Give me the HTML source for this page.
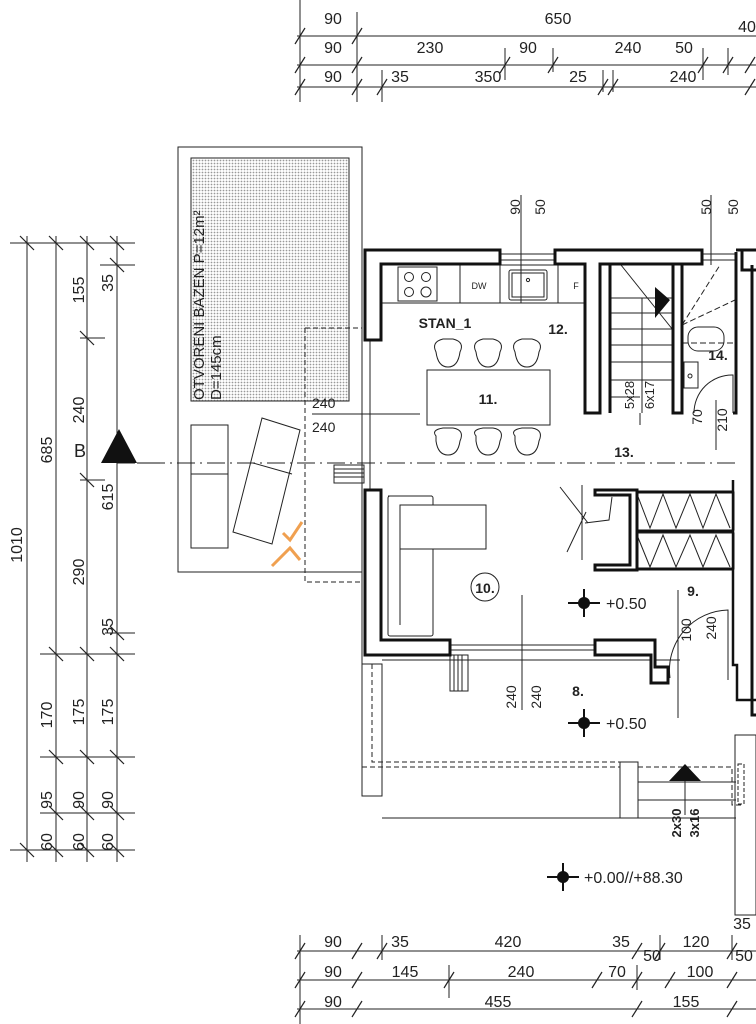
<!DOCTYPE html>
<html><head><meta charset="utf-8"><style>
html,body{margin:0;padding:0;background:#fff;}
svg{display:block;}
text{font-family:"Liberation Sans",sans-serif;fill:#222;}
</style></head><body>
<svg width="756" height="1024" viewBox="0 0 756 1024" xmlns="http://www.w3.org/2000/svg">
<defs>
<pattern id="dots" width="3" height="3" patternUnits="userSpaceOnUse"><rect width="3" height="3" fill="#fff"/><circle cx="1.5" cy="1.5" r="0.9" fill="#999"/></pattern>
</defs>
<g stroke="#222" stroke-width="1" fill="none">
<!-- TOP DIMENSIONS -->
<line x1="297" y1="36" x2="756" y2="36"/>
<line x1="297" y1="65" x2="756" y2="65"/>
<line x1="297" y1="87" x2="756" y2="87"/>
<line x1="300" y1="0" x2="300" y2="102"/>
<line x1="357" y1="12" x2="357" y2="102"/>
<line x1="382" y1="70" x2="382" y2="102"/>
<line x1="505" y1="48" x2="505" y2="80"/>
<line x1="553" y1="48" x2="553" y2="72"/>
<line x1="603" y1="70" x2="603" y2="92"/>
<line x1="613" y1="70" x2="613" y2="92"/>
<line x1="703" y1="48" x2="703" y2="80"/>
<line x1="728" y1="48" x2="728" y2="75"/>
<g stroke-width="1.2">
<line x1="295" y1="44" x2="305" y2="28"/><line x1="352" y1="44" x2="362" y2="28"/>
<line x1="295" y1="73" x2="305" y2="57"/><line x1="352" y1="73" x2="362" y2="57"/>
<line x1="500" y1="73" x2="510" y2="57"/><line x1="548" y1="73" x2="558" y2="57"/>
<line x1="698" y1="73" x2="708" y2="57"/><line x1="723" y1="73" x2="733" y2="57"/>
<line x1="295" y1="95" x2="305" y2="79"/><line x1="352" y1="95" x2="362" y2="79"/>
<line x1="377" y1="95" x2="387" y2="79"/><line x1="598" y1="95" x2="608" y2="79"/>
<line x1="608" y1="95" x2="618" y2="79"/><line x1="745" y1="95" x2="755" y2="79"/>
<line x1="745" y1="73" x2="755" y2="57"/>
</g>
<!-- LEFT DIMENSIONS -->
<line x1="27" y1="236" x2="27" y2="862"/>
<line x1="56" y1="236" x2="56" y2="862"/>
<line x1="87" y1="236" x2="87" y2="862"/>
<line x1="117" y1="236" x2="117" y2="862"/>
<line x1="10" y1="243" x2="135" y2="243"/>
<line x1="10" y1="850" x2="135" y2="850"/>
<line x1="100" y1="265" x2="135" y2="265"/>
<line x1="80" y1="338" x2="105" y2="338"/>
<line x1="80" y1="480" x2="105" y2="480"/>
<line x1="105" y1="633" x2="135" y2="633"/>
<line x1="40" y1="654" x2="135" y2="654"/>
<line x1="40" y1="757" x2="135" y2="757"/>
<line x1="40" y1="813" x2="135" y2="813"/>
<g stroke-width="1.2">
<line x1="20" y1="236" x2="34" y2="250"/><line x1="49" y1="236" x2="63" y2="250"/><line x1="80" y1="236" x2="94" y2="250"/><line x1="110" y1="236" x2="124" y2="250"/>
<line x1="110" y1="258" x2="124" y2="272"/><line x1="80" y1="331" x2="94" y2="345"/><line x1="80" y1="473" x2="94" y2="487"/>
<line x1="110" y1="626" x2="124" y2="640"/>
<line x1="49" y1="647" x2="63" y2="661"/><line x1="80" y1="647" x2="94" y2="661"/><line x1="110" y1="647" x2="124" y2="661"/>
<line x1="49" y1="750" x2="63" y2="764"/><line x1="80" y1="750" x2="94" y2="764"/><line x1="110" y1="750" x2="124" y2="764"/>
<line x1="49" y1="806" x2="63" y2="820"/><line x1="80" y1="806" x2="94" y2="820"/><line x1="110" y1="806" x2="124" y2="820"/>
<line x1="20" y1="843" x2="34" y2="857"/><line x1="49" y1="843" x2="63" y2="857"/><line x1="80" y1="843" x2="94" y2="857"/><line x1="110" y1="843" x2="124" y2="857"/>
</g>
<!-- Section B line -->
<line x1="117" y1="463" x2="740" y2="463" stroke-dasharray="18,5,2,5" stroke-width="0.9"/>
<!-- BOTTOM DIMENSIONS -->
<line x1="297" y1="951" x2="756" y2="951"/>
<line x1="297" y1="980" x2="756" y2="980"/>
<line x1="297" y1="1009" x2="756" y2="1009"/>
<line x1="300" y1="935" x2="300" y2="1024"/>
<line x1="382" y1="935" x2="382" y2="960"/>
<line x1="449" y1="965" x2="449" y2="998"/>
<line x1="637" y1="965" x2="637" y2="990"/>
<line x1="660" y1="935" x2="660" y2="960"/>
<line x1="732" y1="935" x2="732" y2="960"/>
<g stroke-width="1.2">
<line x1="295" y1="959" x2="305" y2="943"/><line x1="352" y1="959" x2="362" y2="943"/><line x1="377" y1="959" x2="387" y2="943"/>
<line x1="632" y1="959" x2="642" y2="943"/><line x1="655" y1="959" x2="665" y2="943"/><line x1="727" y1="959" x2="737" y2="943"/>
<line x1="295" y1="988" x2="305" y2="972"/><line x1="352" y1="988" x2="362" y2="972"/><line x1="444" y1="988" x2="454" y2="972"/>
<line x1="592" y1="988" x2="602" y2="972"/><line x1="632" y1="988" x2="642" y2="972"/><line x1="665" y1="988" x2="675" y2="972"/><line x1="727" y1="988" x2="737" y2="972"/>
<line x1="295" y1="1017" x2="305" y2="1001"/><line x1="352" y1="1017" x2="362" y2="1001"/><line x1="632" y1="1017" x2="642" y2="1001"/><line x1="727" y1="1017" x2="737" y2="1001"/>
</g>
<!-- POOL AREA -->
<rect x="178" y="147" width="184" height="425"/>
<rect x="191" y="158" width="158" height="243" fill="url(#dots)"/>
<rect x="191" y="425" width="37" height="123"/>
<line x1="191" y1="474" x2="228" y2="474"/>
<polygon points="262,418 300,430 272,544 233,532"/>
<line x1="253" y1="463" x2="292" y2="474"/>
<polyline points="305,328 362,328" stroke-dasharray="5,3"/>
<polyline points="305,328 305,582 362,582" stroke-dasharray="5,3"/>
<line x1="312" y1="414" x2="420" y2="414"/>
<line x1="362" y1="272" x2="362" y2="795"/>
<line x1="370" y1="340" x2="370" y2="490"/>
<!-- steps at left door -->
<rect x="334" y="465" width="30" height="18"/>
<line x1="334" y1="469" x2="364" y2="469"/><line x1="334" y1="473" x2="364" y2="473"/><line x1="334" y1="477" x2="364" y2="477"/>
<!-- TERRACE -->
<line x1="362" y1="660" x2="362" y2="795"/>
<rect x="362" y="664" width="20" height="132"/>
<polyline points="372,664 372,762 620,762" stroke-dasharray="5,3"/>
<polyline points="362,767 620,767" stroke-dasharray="5,3"/>
<line x1="382" y1="818" x2="736" y2="818"/>
<rect x="620" y="762" width="18" height="56"/>
<line x1="638" y1="782" x2="736" y2="782"/>
<line x1="638" y1="800" x2="736" y2="800"/>
<polyline points="638,767 732,767 732,805 742,805" stroke-dasharray="5,3"/>
<rect x="735" y="735" width="21" height="180"/>
<rect x="738" y="764" width="6" height="40" stroke-dasharray="4,2"/>
<line x1="685" y1="770" x2="685" y2="815"/>
<!-- step stairs at bottom door -->
<rect x="450" y="655" width="18" height="36"/>
<line x1="454" y1="655" x2="454" y2="691"/><line x1="458" y1="655" x2="458" y2="691"/><line x1="462" y1="655" x2="462" y2="691"/>
<!-- window openings thin lines -->
<line x1="450" y1="645" x2="595" y2="645"/><line x1="450" y1="650" x2="595" y2="650"/>
<line x1="500" y1="254" x2="555" y2="254"/><line x1="500" y1="260" x2="555" y2="260"/>
<line x1="702" y1="254" x2="736" y2="254"/><line x1="702" y1="260" x2="736" y2="260"/>
<line x1="521" y1="195" x2="521" y2="303"/>
<line x1="711" y1="195" x2="711" y2="265"/>
<line x1="522" y1="595" x2="522" y2="710"/>
<line x1="678" y1="590" x2="678" y2="718"/>
<line x1="382" y1="660" x2="680" y2="660"/>
<!-- KITCHEN -->
<rect x="381" y="265" width="219" height="38"/>
<rect x="398" y="267" width="39" height="34"/>
<circle cx="409" cy="277" r="4.5"/><circle cx="426" cy="277" r="4.5"/><circle cx="409" cy="292" r="4.5"/><circle cx="426" cy="292" r="5"/>
<line x1="460" y1="265" x2="460" y2="303"/>
<line x1="500" y1="265" x2="500" y2="303"/>
<rect x="509" y="270" width="38" height="30" rx="2"/>
<rect x="512" y="273" width="32" height="24"/>
<circle cx="528" cy="280" r="1.6"/>
<line x1="558" y1="265" x2="558" y2="303"/>
<!-- TABLE & CHAIRS -->
<rect x="427" y="370" width="123" height="55"/>
<path d="M436,352 Q431,342 443,339 L453,339 Q465,342 460,352 Q458,367 448,367 Q438,367 436,352Z"/>
<path d="M476,352 Q471,342 483,339 L493,339 Q505,342 500,352 Q498,367 488,367 Q478,367 476,352Z"/>
<path d="M515,352 Q510,342 522,339 L532,339 Q544,342 539,352 Q537,367 527,367 Q517,367 515,352Z"/>
<path d="M436,436 Q431,430 443,428 L453,428 Q465,430 460,441 Q458,455 448,455 Q438,455 436,441Z"/>
<path d="M476,436 Q471,430 483,428 L493,428 Q505,430 500,441 Q498,455 488,455 Q478,455 476,441Z"/>
<path d="M515,436 Q510,430 522,428 L532,428 Q544,430 539,441 Q537,455 527,455 Q517,455 515,441Z"/>
<!-- SOFA -->
<rect x="388" y="496" width="45" height="140" rx="2"/>
<line x1="400" y1="505" x2="400" y2="625"/>
<rect x="400" y="505" width="86" height="44" fill="#fff"/>
<line x1="388" y1="496" x2="432" y2="496"/>
<circle cx="485" cy="587" r="14"/>
<!-- STAIRS -->
<line x1="610" y1="298" x2="673" y2="298"/>
<line x1="610" y1="313" x2="673" y2="313"/>
<line x1="610" y1="329" x2="673" y2="329"/>
<line x1="610" y1="345" x2="673" y2="345"/>
<line x1="610" y1="362" x2="673" y2="362"/>
<line x1="610" y1="380" x2="673" y2="380"/>
<line x1="610" y1="397" x2="640" y2="397"/>
<line x1="621" y1="265" x2="673" y2="330"/>
<line x1="642" y1="298" x2="642" y2="413"/>
<line x1="640" y1="413" x2="640" y2="425"/>
<line x1="682" y1="325" x2="735" y2="300" stroke-dasharray="6,3"/>
<line x1="682" y1="325" x2="720" y2="265" stroke-dasharray="6,3"/>
<!-- BATH -->
<rect x="688" y="327" width="36" height="24" rx="10"/>
<rect x="684" y="362" width="14" height="26"/>
<circle cx="690" cy="376" r="2"/>
<path d="M694,413 A38,38 0 0 1 733,375 L733,413"/>
<line x1="716" y1="400" x2="716" y2="450"/>
<line x1="682" y1="343" x2="735" y2="343" stroke-dasharray="6,3"/>
<!-- Door swing at 10 -->
<line x1="582" y1="485" x2="582" y2="560"/>
<line x1="560" y1="487" x2="588" y2="523"/>
<line x1="567" y1="552" x2="586" y2="512"/>
<polyline points="585,523 609,520 612,497"/>
<!-- CLOSETS -->
<rect x="637" y="492" width="97" height="38"/>
<rect x="637" y="533" width="97" height="36"/>
<polyline points="637,494 650,528 663,494 676,528 690,494 703,528 716,494 730,528"/>
<polyline points="637,535 650,567 663,535 676,567 690,535 703,567 716,535 730,567"/>
<!-- door 9 -->
<path d="M670,678 A60,60 0 0 1 728,610 L728,680"/>
</g>
<!-- THICK WALLS -->
<g stroke="#111" stroke-width="3" fill="#fff">
<polygon points="365,250 500,250 500,264 381,264 381,340 365,340"/>
<polygon points="555,250 702,250 702,264 600,264 600,413 585,413 585,264 555,264"/>
<polygon points="365,490 381,490 381,640 450,640 450,655 365,655"/>
<polygon points="595,640 655,640 655,667 668,667 668,683 651,683 651,655 595,655"/>
<polygon points="595,490 637,490 637,570 595,570 595,565 630,565 630,495 595,495"/>
<line x1="637" y1="531" x2="734" y2="531"/>
<line x1="637" y1="492" x2="734" y2="492"/>
<line x1="637" y1="569" x2="734" y2="569"/>
<polyline points="673,265 673,413 682,413 682,265" fill="none"/>
<polyline points="610,265 610,413" fill="none"/>
<polyline points="736,250 756,250" fill="none"/>
<polyline points="736,252 736,413 733,413" fill="none"/>
<polyline points="733,480 733,665 737,665 737,700 756,700" fill="none" stroke-width="2.5"/>
<polyline points="752,265 752,715 756,715" fill="none"/>
<polyline points="742,250 742,270 756,270" fill="none"/>
</g>
<!-- markers -->
<g fill="#111" stroke="#111">
<polygon points="101,463 119,429 137,463" stroke="none"/>
<line x1="137" y1="463" x2="160" y2="463" stroke-width="1"/>
<polygon points="669,781 685,764 701,781" stroke="none"/>
<polygon points="655,287 670,300 655,318" stroke="none"/>
</g>
<g stroke="#111" stroke-width="2" fill="none">
<line x1="568" y1="603" x2="600" y2="603"/><line x1="584" y1="589" x2="584" y2="617"/>
<line x1="568" y1="723" x2="600" y2="723"/><line x1="584" y1="709" x2="584" y2="737"/>
<line x1="547" y1="877" x2="579" y2="877"/><line x1="563" y1="863" x2="563" y2="891"/>
</g>
<g fill="#111"><circle cx="584" cy="603" r="6"/><circle cx="584" cy="723" r="6"/><circle cx="563" cy="877" r="6"/></g>
<!-- orange logo -->
<g stroke="#f0a050" stroke-width="3" fill="none">
<polyline points="283,533 290,540 302,522"/>
<polyline points="272,566 290,548 300,560"/>
</g>
<!-- TEXT -->
<g font-size="16" text-anchor="middle">
<text x="333" y="24">90</text><text x="558" y="24">650</text><text x="747" y="32">40</text>
<text x="333" y="53">90</text><text x="430" y="53">230</text><text x="528" y="53">90</text><text x="628" y="53">240</text><text x="684" y="53">50</text>
<text x="333" y="82">90</text><text x="400" y="82">35</text><text x="488" y="82">350</text><text x="578" y="82">25</text><text x="683" y="82">240</text>
<text x="333" y="947">90</text><text x="400" y="947">35</text><text x="508" y="947">420</text><text x="621" y="947">35</text><text x="652" y="961">50</text><text x="696" y="947">120</text><text x="742" y="929">35</text><text x="744" y="961">50</text>
<text x="333" y="977">90</text><text x="405" y="977">145</text><text x="521" y="977">240</text><text x="617" y="977">70</text><text x="700" y="977">100</text>
<text x="333" y="1007">90</text><text x="498" y="1007">455</text><text x="686" y="1007">155</text>
<text x="80" y="457" font-size="18">B</text>
</g>
<g font-size="16" text-anchor="middle">
<text transform="translate(22,545) rotate(-90)">1010</text>
<text transform="translate(52,450) rotate(-90)">685</text>
<text transform="translate(52,715) rotate(-90)">170</text>
<text transform="translate(52,800) rotate(-90)">95</text>
<text transform="translate(52,842) rotate(-90)">60</text>
<text transform="translate(84,290) rotate(-90)">155</text>
<text transform="translate(84,410) rotate(-90)">240</text>
<text transform="translate(84,572) rotate(-90)">290</text>
<text transform="translate(84,712) rotate(-90)">175</text>
<text transform="translate(84,800) rotate(-90)">90</text>
<text transform="translate(84,842) rotate(-90)">60</text>
<text transform="translate(113,283) rotate(-90)">35</text>
<text transform="translate(113,497) rotate(-90)">615</text>
<text transform="translate(113,627) rotate(-90)">35</text>
<text transform="translate(113,712) rotate(-90)">175</text>
<text transform="translate(113,800) rotate(-90)">90</text>
<text transform="translate(113,842) rotate(-90)">60</text>
</g>
<g font-size="14" text-anchor="middle">
<text transform="translate(520,207) rotate(-90)">90</text>
<text transform="translate(545,207) rotate(-90)">50</text>
<text transform="translate(711,207) rotate(-90)">50</text>
<text transform="translate(738,207) rotate(-90)">50</text>
<text transform="translate(516,697) rotate(-90)">240</text>
<text transform="translate(541,697) rotate(-90)">240</text>
<text transform="translate(691,630) rotate(-90)">100</text>
<text transform="translate(716,628) rotate(-90)">240</text>
<text transform="translate(702,417) rotate(-90)">70</text>
<text transform="translate(727,420) rotate(-90)">210</text>
<text transform="translate(634,395) rotate(-90)" font-size="13">5x28</text>
<text transform="translate(654,395) rotate(-90)" font-size="13">6x17</text>
<text transform="translate(681,823) rotate(-90)" font-size="13" font-weight="bold">2x30</text>
<text transform="translate(699,823) rotate(-90)" font-size="13" font-weight="bold">3x16</text>
</g>
<g font-size="15" text-anchor="start">
<text transform="translate(204,400) rotate(-90)">OTVORENI BAZEN P=12m²</text>
<text transform="translate(221,400) rotate(-90)">D=145cm</text>
<text x="312" y="408" font-size="14">240</text>
<text x="312" y="432" font-size="14">240</text>
</g>
<g font-size="14" font-weight="bold" text-anchor="middle">
<text x="445" y="328">STAN_1</text>
<text x="558" y="334">12.</text>
<text x="488" y="404">11.</text>
<text x="624" y="457">13.</text>
<text x="718" y="360">14.</text>
<text x="485" y="593">10.</text>
<text x="693" y="596">9.</text>
<text x="578" y="696">8.</text>
</g>
<g font-size="9" text-anchor="middle">
<text x="479" y="289">DW</text><text x="576" y="289">F</text>
</g>
<g font-size="16">
<text x="606" y="609">+0.50</text>
<text x="606" y="729">+0.50</text>
<text x="584" y="883">+0.00//+88.30</text>
</g>
</svg>
</body></html>
